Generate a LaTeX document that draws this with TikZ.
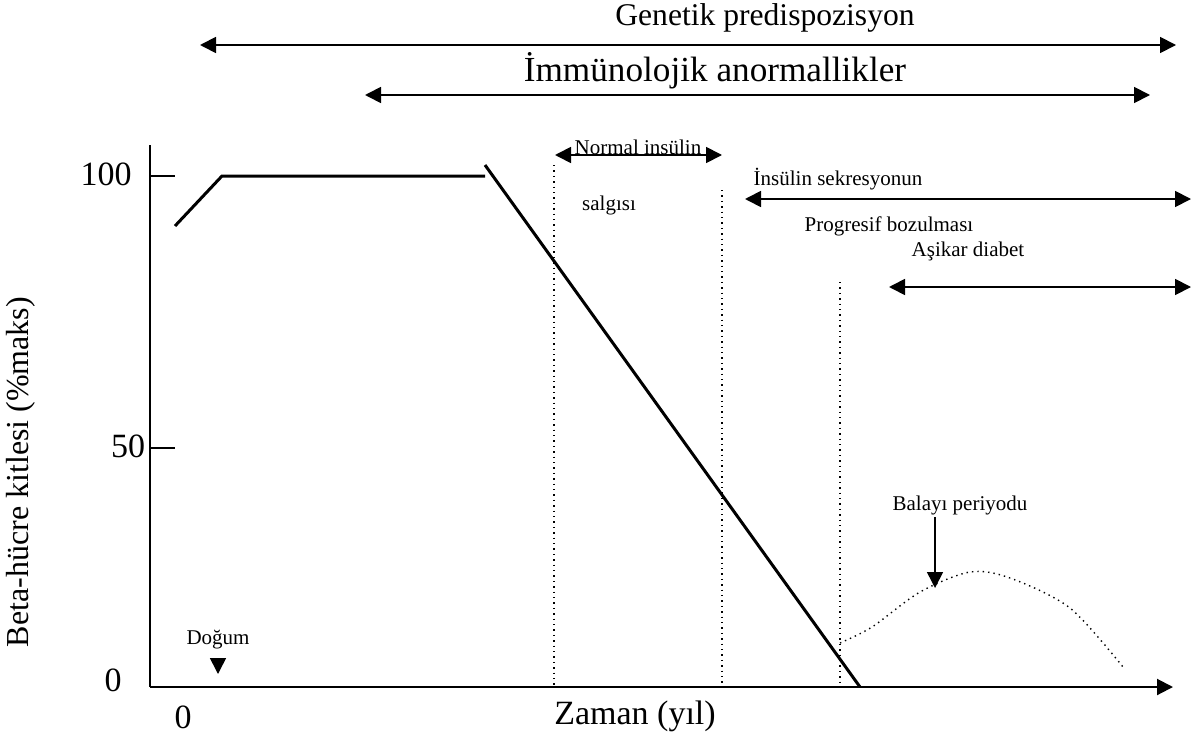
\documentclass[tikz,border=0pt]{standalone}
\usepackage{fontspec}
\setmainfont{Liberation Serif}
\usetikzlibrary{arrows.meta}

\begin{document}
\begin{tikzpicture}[
  x=0.5pt, y=-0.5pt,
  >={Triangle[length=8pt,width=8pt]},
  axis/.style={line width=1pt},
  span/.style={<->, line width=0.9pt},
  mass/.style={line width=1.5pt},
  guide/.style={dotted, line width=0.7pt},
  big/.style={font=\fontsize{17}{20}\selectfont},
  small/.style={font=\fontsize{10.5}{12}\selectfont, inner sep=1pt},
]
\useasboundingbox (0,0) rectangle (1192,738);

% axes
\coordinate (ytop) at (150,145);
\coordinate (O) at (150,687);
\coordinate (xend) at (1173,687);
\draw[axis] (ytop) -- (O);
\draw[axis,->] (O) -- (xend);
\draw[axis] (150,176) -- (175,176);
\draw[axis] (150,448) -- (175,448);

\node[big] (t100) at (106,174) {100};
\node[big] (t50) at (128,446) {50};
\node[big] (t0) at (113,680) {0};
\node[big] (x0) at (183,717) {0};
\node[big] (xlab) at (635,716) {Zaman (yıl)};
\node[big, rotate=90, font=\fontsize{16}{19}\selectfont] (ylab) at (21,472) {Beta-hücre kitlesi (\%maks)};

% top spans
\node[big, font=\fontsize{15.8}{19}\selectfont] (gen) at (765,18) {Genetik predispozisyon};
\coordinate (genL) at (200,45);
\coordinate (genR) at (1176,45);
\draw[span] (genL) -- (genR);

\node[big, font=\fontsize{17.6}{21}\selectfont] (imm) at (715,71) {İmmünolojik anormallikler};
\coordinate (immL) at (365,95);
\coordinate (immR) at (1150,95);
\draw[span] (immL) -- (immR);

% phases
\node[small] (norm) at (638,147) {Normal insülin};
\coordinate (normL) at (555,155);
\coordinate (normR) at (722,155);
\draw[span] (normL) -- (normR);
\node[small] (salg) at (609,205) {salgısı};

\node[small] (sekr) at (838,179) {İnsülin sekresyonun};
\coordinate (sekrL) at (745,199);
\coordinate (sekrR) at (1191,199);
\draw[span] (sekrL) -- (sekrR);
\node[small] (prog) at (889,226) {Progresif bozulması};

\node[small] (asik) at (968,251) {Aşikar diabet};
\coordinate (asikL) at (889,287);
\coordinate (asikR) at (1191,287);
\draw[span] (asikL) -- (asikR);

% dotted borders
\draw[guide] (554,165) -- (554,687);
\draw[guide] (722,190) -- (722,687);
\draw[guide] (840,282) -- (840,687);

% beta cell mass
\draw[mass] (175,226) -- (222,176) -- (485,176);
\draw[mass] (485,165) -- (860,687);

% honeymoon
\draw[guide] plot[smooth] coordinates {(840,643) (872,627) (920,592) (970,572) (1010,578) (1070,608) (1123,667)};
\node[small] (bal) at (960,505) {Balayı periyodu};
\coordinate (balT) at (935,588);
\draw[->, line width=0.8pt] (bal.south -| balT) -- (balT);

% birth
\node[small] (dog) at (218,640) {Doğum};
\coordinate (dogT) at (218,674);
\draw[->, line width=0.8pt] (218,660) -- (dogT);
\end{tikzpicture}
\end{document}
